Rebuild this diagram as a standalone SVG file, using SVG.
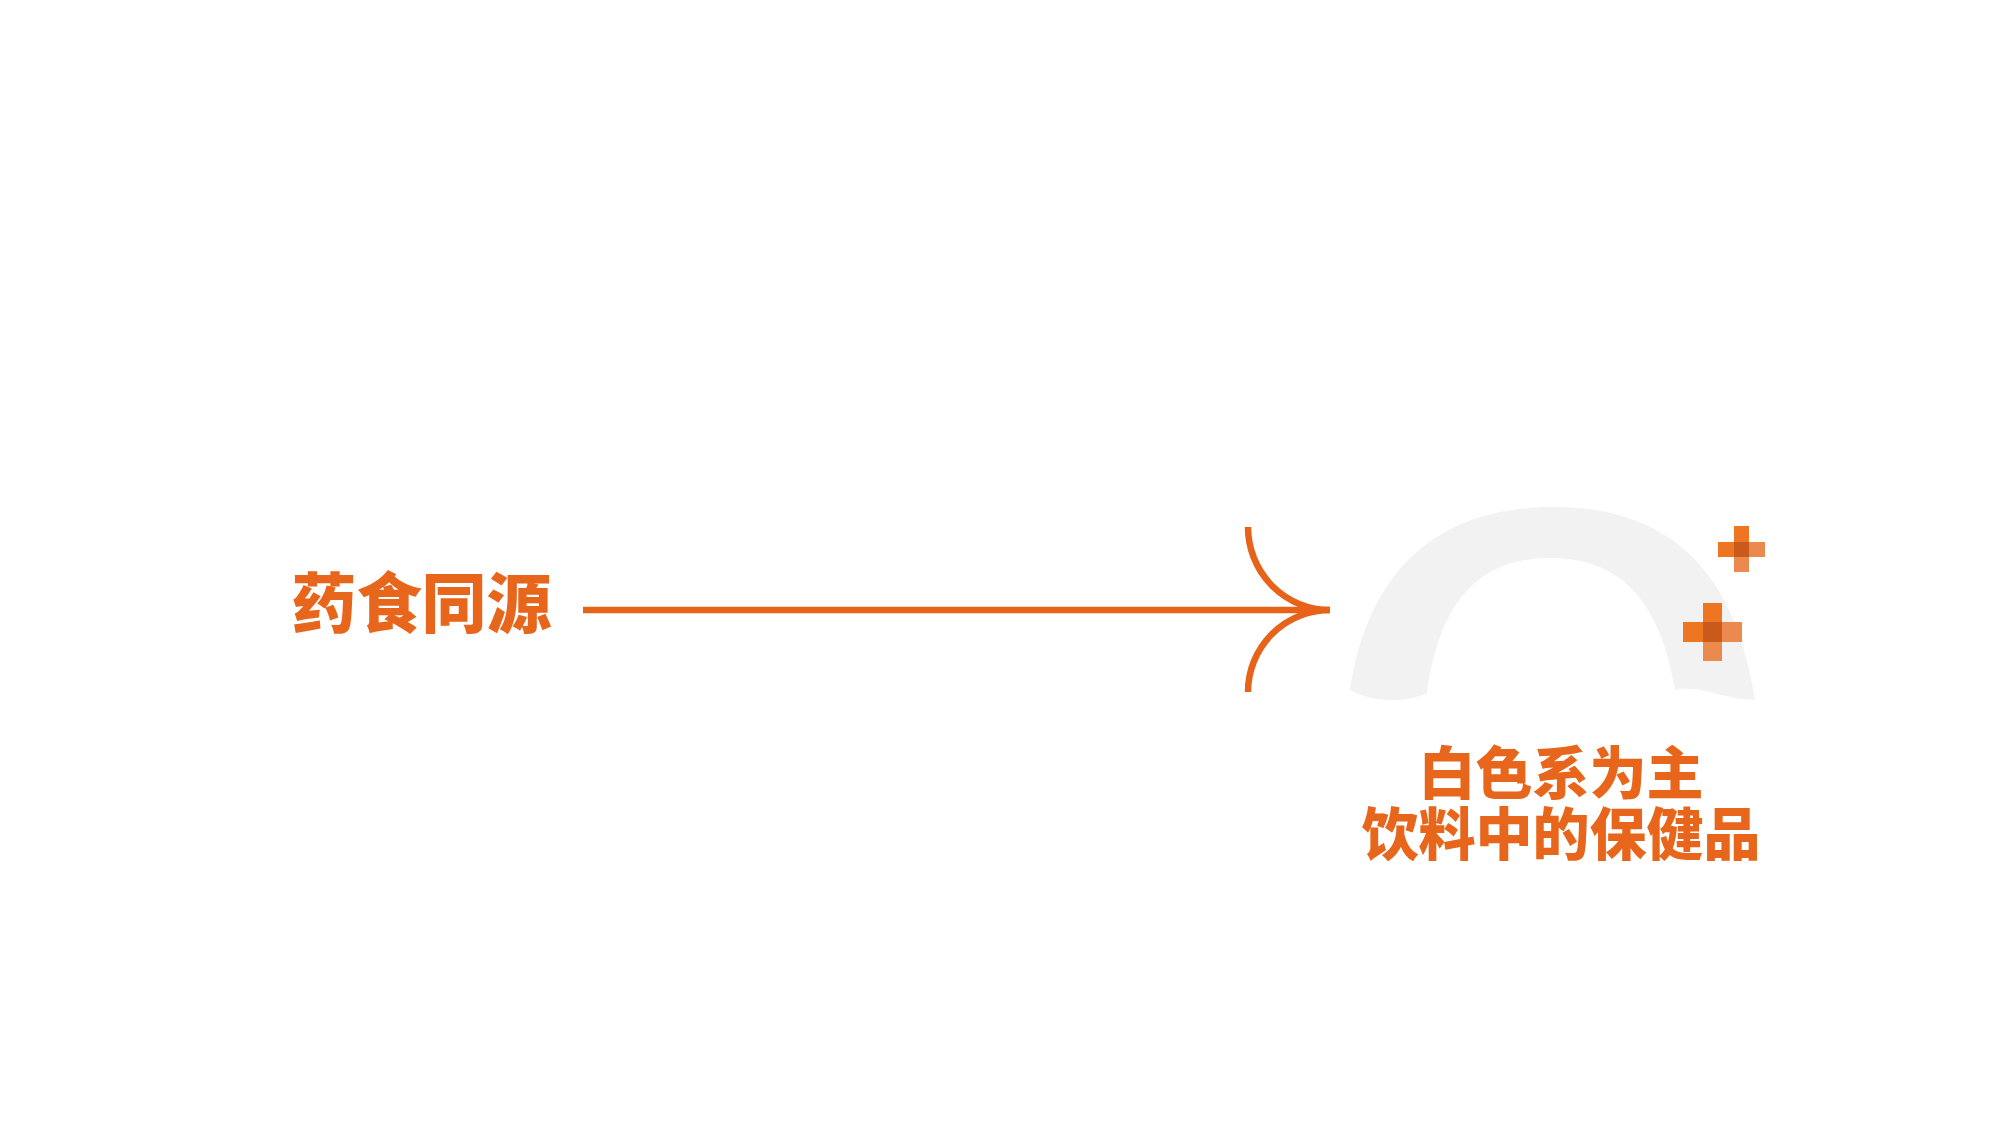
<svg xmlns="http://www.w3.org/2000/svg" width="2001" height="1126" viewBox="0 0 2001 1126">
<style>
.lbl{font-family:"Noto Sans CJK SC","Noto Sans CJK JP",sans-serif;font-weight:900;fill:#e8661b;text-anchor:middle}
.con{fill:none;stroke:#e8631a;stroke-width:6.5}
.solid{fill:#ee7623}
.dark{fill:#c95a1b}
.light{fill:#eb8a4e}
</style>
<rect width="2001" height="1126" fill="#ffffff"/>
<g id="node-source">
<text class="lbl" x="421.5" y="627" font-size="65">药食同源</text>
</g>
<g id="connectors">
<path class="con" d="M583,610 H1330"/>
<path class="con" d="M1248,527 A82,83 0 0 0 1330,610 A82,82 0 0 0 1248,692"/>
</g>
<g id="node-target">
<path fill="#f2f2f2" d="M1350,690 C1365,590 1420,507 1553,507 C1686,507 1738,590 1755,700 C1725,700 1700,684 1675,690 C1660,600 1620,558 1550,558 C1480,558 1440,600 1427,693 C1405,703 1375,703 1350,690 Z"/>
<g id="cross-1">
<rect class="solid" x="1734" y="526" width="15" height="16"/>
<rect class="solid" x="1718" y="542" width="16" height="15"/>
<rect class="dark" x="1734" y="542" width="15" height="15"/>
<rect class="light" x="1749" y="542" width="16" height="15"/>
<rect class="light" x="1734" y="557" width="15" height="15"/>
</g>
<g id="cross-2">
<rect class="solid" x="1703" y="603" width="19" height="19"/>
<rect class="solid" x="1683" y="622" width="20" height="20"/>
<rect class="dark" x="1703" y="622" width="19" height="20"/>
<rect class="light" x="1722" y="622" width="20" height="20"/>
<rect class="light" x="1703" y="642" width="19" height="19"/>
</g>
<text class="lbl" font-size="57"><tspan x="1561" y="794">白色系为主</tspan><tspan x="1561" y="855">饮料中的保健品</tspan></text>
</g>
</svg>
